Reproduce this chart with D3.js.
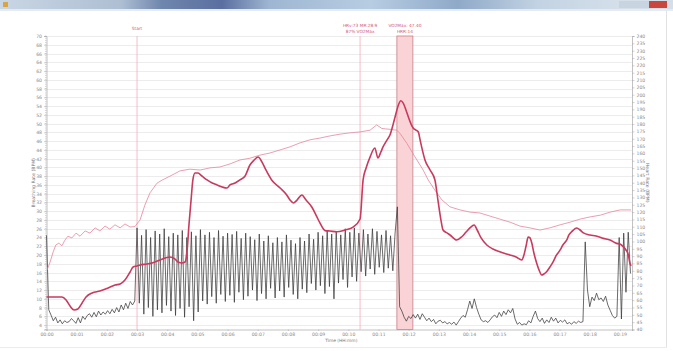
<!DOCTYPE html>
<html><head><meta charset="utf-8">
<script src="https://cdn.jsdelivr.net/npm/d3@7"></script>
<style>
html,body{margin:0;padding:0;background:#fff;overflow:hidden}
svg{display:block;font-family:"DejaVu Sans",Arial,sans-serif}
</style></head><body>
<svg id="chart" width="673" height="351"></svg>
<script>
// Breathing rate (BPM), one sample every 4.5 s from 00:00
const breathStepSec = 4.5;
const breathRate = [
  24.5, 7.5, 6.3, 5.0, 5.8, 4.5, 5.2, 4.3, 5.0, 4.6,
  4.8, 5.5, 5.0, 4.4, 5.7, 4.5, 6.0, 5.3, 6.2, 6.6,
  5.8, 6.9, 5.9, 7.2, 6.3, 7.0, 6.5, 7.3, 6.6, 7.6,
  6.8, 8.0, 7.0, 8.6, 7.5, 9.0, 7.8, 9.4, 8.6, 9.5,
  26.2, 9.0, 24.5, 6.5, 25.8, 8.0, 24.0, 6.0, 25.5, 7.5,
  24.8, 6.8, 26.0, 8.5, 24.2, 7.2, 25.0, 6.2, 24.6, 7.8,
  25.6, 5.8, 24.0, 8.2, 25.3, 5.0, 24.4, 7.0, 25.8, 9.5,
  24.6, 8.8, 25.2, 10.5, 24.0, 9.0, 25.6, 11.0, 24.3, 9.4,
  25.0, 10.8, 24.7, 9.2, 25.4, 11.5, 23.8, 9.8, 25.0, 10.6,
  24.2, 12.0, 23.5, 9.6, 24.8, 11.2, 23.2, 10.0, 24.4, 12.4,
  22.8, 10.2, 24.0, 11.8, 23.0, 10.4, 24.6, 12.6, 23.4, 11.0,
  22.6, 10.0, 24.0, 12.2, 23.2, 11.4, 24.8, 13.5, 23.6, 12.0,
  25.2, 13.0, 24.4, 11.2, 25.6, 12.8, 24.8, 10.0, 25.4, 13.6,
  24.6, 14.4, 26.0, 12.6, 25.2, 15.0, 26.2, 14.0, 25.0, 16.2,
  25.8, 15.2, 24.8, 16.8, 26.0, 15.6, 25.4, 17.2, 24.6, 16.0,
  25.6, 17.0, 24.4, 16.4, 25.0, 31.0, 8.2, 7.2, 5.8, 4.9,
  6.0, 5.5, 6.4, 5.6, 6.5, 5.3, 6.6, 5.8, 5.0, 5.6,
  4.8, 5.3, 4.3, 4.9, 5.1, 4.5, 4.8, 4.3, 4.6, 4.2,
  4.7, 4.0, 4.8, 5.6, 6.2, 5.8, 7.5, 9.5, 7.8, 10.0,
  8.0, 6.5, 5.2, 4.8, 5.0, 4.6, 5.2, 5.9, 6.3, 5.7,
  6.9, 6.0, 7.2, 6.4, 7.5, 6.8, 7.8, 5.4, 4.2, 4.6,
  4.0, 4.3, 4.1, 5.0, 4.5, 6.0, 7.2, 5.5, 4.8, 5.6,
  4.4, 5.2, 4.6, 5.8, 4.9, 5.6, 4.5, 5.1, 4.7, 5.2,
  4.3, 4.6, 4.2, 4.8, 4.4, 4.9, 4.6, 4.8, 23.0, 12.0,
  8.2, 10.4, 9.6, 11.3, 9.8, 10.2, 9.4, 10.6, 8.6, 7.4,
  6.2, 5.6, 6.0, 24.0, 5.4, 25.0, 11.5, 25.2, 15.8
];

// Heart rate (BPM, right axis): time in minutes and value
const hrMinutes = [
  0, 0.28, 0.51, 0.65, 0.78, 0.91, 1.04, 1.18, 1.31, 1.51,
  1.77, 2.04, 2.27, 2.44, 2.60, 2.77, 2.87, 3.00, 3.10, 3.33,
  3.53, 3.76, 3.93, 4.09, 4.26, 4.36, 4.49, 4.59, 4.66, 4.72,
  4.79, 4.85, 4.92, 5.02, 5.15, 5.32, 5.49, 5.65, 5.82, 5.98,
  6.08, 6.25, 6.41, 6.58, 6.74, 6.88, 7.01, 7.14, 7.27, 7.46,
  7.74, 7.96, 8.07, 8.18, 8.30, 8.46, 8.60, 8.79, 8.93, 9.06,
  9.23, 9.39, 9.62, 9.89, 10.16, 10.39, 10.49, 10.59, 10.72, 10.88,
  10.98, 11.08, 11.15, 11.28, 11.38, 11.48, 11.55, 11.61, 11.66, 11.74,
  11.82, 11.91, 11.99, 12.08, 12.15, 12.24, 12.32, 12.38, 12.43, 12.54,
  12.71, 12.87, 12.97, 13.07, 13.14, 13.27, 13.37, 13.59, 13.76, 13.90,
  14.03, 14.17, 14.27, 14.40, 14.59, 14.79, 15.02, 15.35, 15.56, 15.75,
  15.82, 15.89, 15.96, 16.02, 16.08, 16.15, 16.24, 16.32, 16.41, 16.48,
  16.57, 16.68, 16.79, 16.88, 17.02, 17.11, 17.24, 17.31, 17.40, 17.57,
  17.68, 17.79, 18.01, 18.21, 18.45, 18.67, 18.89, 19.00, 19.11, 19.20,
  19.28, 19.33, 19.37
];
const hrBpm = [
  62.1, 62.1, 62.1, 60.1, 56.0, 53.3, 54.0, 58.1, 62.1, 64.9,
  66.2, 68.3, 70.3, 71.0, 73.7, 79.2, 82.6, 83.3, 84.0, 84.6,
  85.5, 87.4, 88.7, 89.4, 88.0, 86.0, 85.3, 86.0, 94.2, 111.2,
  128.2, 141.9, 146.6, 146.6, 144.6, 141.9, 139.8, 138.5, 137.1, 136.4,
  138.5, 139.8, 141.9, 144.6, 152.1, 155.5, 157.5, 154.1, 148.7, 141.9,
  136.4, 131.7, 128.2, 126.2, 128.2, 131.7, 128.2, 123.5, 118.0, 112.6,
  107.4, 107.1, 106.6, 107.8, 109.8, 115.3, 141.9, 150.1, 157.5, 163.7,
  156.9, 161.0, 164.4, 169.1, 172.5, 179.4, 184.8, 189.6, 193.0, 195.9,
  194.3, 189.6, 184.8, 180.0, 177.3, 175.9, 174.6, 169.1, 164.4, 155.5,
  148.7, 141.9, 128.2, 114.6, 107.8, 105.8, 104.4, 101.0, 103.2, 106.4,
  109.2, 111.2, 107.8, 102.4, 97.6, 94.9, 93.0, 90.8, 89.4, 87.4,
  90.8, 96.9, 103.0, 102.4, 98.9, 92.1, 85.3, 80.5, 77.1, 77.8,
  79.4, 82.6, 86.2, 90.1, 94.2, 97.6, 101.0, 104.4, 106.6, 109.2,
  107.8, 105.8, 104.4, 103.7, 102.1, 101.0, 98.7, 98.3, 96.4, 94.2,
  90.8, 85.3, 83.3
];

// VO2 (ml/kg/min, left axis): time in minutes and value
const vo2Minutes = [
  0.02, 0.12, 0.22, 0.31, 0.41, 0.51, 0.61, 0.71, 0.84, 0.98,
  1.11, 1.28, 1.44, 1.61, 1.77, 1.94, 2.10, 2.27, 2.44, 2.60,
  2.77, 2.93, 3.10, 3.26, 3.43, 3.66, 3.83, 4.09, 4.42, 4.75,
  5.09, 5.42, 5.75, 6.08, 6.41, 6.74, 7.07, 7.41, 7.74, 8.07,
  8.40, 8.73, 9.06, 9.40, 9.73, 10.06, 10.39, 10.72, 10.94, 11.11,
  11.22, 11.38, 11.60, 11.71, 11.94, 12.21, 12.48, 12.65, 12.87, 13.10,
  13.37, 13.70, 14.03, 14.36, 14.69, 15.02, 15.36, 15.69, 16.02, 16.35,
  16.68, 17.02, 17.35, 17.68, 18.01, 18.35, 18.68, 19.01, 19.37
];
const vo2Values = [
  16.6, 18.4, 20.7, 22.3, 22.7, 22.1, 23.4, 24.3, 23.9, 25.0,
  24.3, 25.5, 25.0, 26.2, 25.5, 26.6, 25.9, 26.9, 26.2, 27.1,
  26.4, 26.5, 28.0, 31.4, 34.2, 36.4, 37.1, 38.0, 39.2, 39.6,
  39.4, 39.9, 40.1, 40.8, 41.7, 42.1, 42.8, 43.3, 44.0, 44.7,
  45.6, 46.3, 46.7, 47.2, 47.6, 47.9, 48.1, 48.5, 49.7, 48.9,
  48.8, 48.7, 48.5, 47.8, 45.5, 42.4, 39.4, 37.1, 34.8, 32.6,
  31.0, 30.3, 29.8, 29.6, 28.9, 28.2, 27.5, 26.6, 26.2, 25.7,
  26.2, 26.9, 27.5, 28.2, 28.7, 29.1, 29.8, 30.3, 30.3
];

// Axis ticks
const leftTicks = [4, 6, 8, 10, 12, 14, 16, 18, 20, 22, 24, 26, 28, 30, 32, 34, 36, 38,
  40, 42, 44, 46, 48, 50, 52, 54, 56, 58, 60, 62, 64, 66, 68, 70];
const rightTicks = [40, 45, 50, 55, 60, 65, 70, 75, 80, 85, 90, 95, 100, 105, 110, 115, 120,
  125, 130, 135, 140, 145, 150, 155, 160, 165, 170, 175, 180, 185, 190, 195, 200, 205, 210,
  215, 220, 225, 230, 235, 240];
const timeTicks = [0, 1, 2, 3, 4, 5, 6, 7, 8, 9, 10, 11, 12, 13, 14, 15, 16, 17, 18, 19];
const timeLabels = ["00:00", "00:01", "00:02", "00:03", "00:04", "00:05", "00:06", "00:07",
  "00:08", "00:09", "00:10", "00:11", "00:12", "00:13", "00:14", "00:15", "00:16", "00:17",
  "00:18", "00:19"];

// Event markers and the VO2Max window
const markerMinutes = [3.0, 10.39];
const markerLabels = [["Start"], ["HRv:73  MR:28.9", "87% VO2Max"]];
const windowMinutes = [11.61, 12.14];
const windowLabels = ["VO2Max: 47.40", "HRR:14"];

const svg = d3.select("#chart");
const W = 673, H = 351;
const plot = {left: 46.5, right: 632, top: 36, bottom: 329.5};

// Window chrome
const defs = svg.append("defs");
const tg = defs.append("linearGradient").attr("id", "titlebar");
[[0, "#c9d6e4"], [0.18, "#aebfd3"], [0.24, "#6f86ad"], [0.33, "#5a6fa0"], [0.40, "#9fb6d2"],
 [0.55, "#b7cde2"], [0.68, "#8fa9c8"], [0.80, "#c3d3e3"], [0.92, "#d4dfea"], [1, "#d4dfea"]]
  .forEach(([o, c]) => tg.append("stop").attr("offset", o).attr("stop-color", c));
svg.append("rect").attr("x", 0).attr("y", 0).attr("width", W).attr("height", 9).attr("fill", "url(#titlebar)");
svg.append("rect").attr("x", 0).attr("y", 9).attr("width", W).attr("height", 2).attr("fill", "#e4ebf2");
svg.append("rect").attr("x", 3).attr("y", 2).attr("width", 5).attr("height", 5).attr("fill", "#d9a441");
svg.append("rect").attr("x", 619).attr("y", 1).attr("width", 30).attr("height", 7).attr("fill", "#c8d4e0");
svg.append("rect").attr("x", 649).attr("y", 1).attr("width", 18).attr("height", 7).attr("fill", "#c9473c");
svg.append("line").attr("x1", 666.5).attr("x2", 666.5).attr("y1", 11).attr("y2", 347).attr("stroke", "#e2e2e2");
svg.append("line").attr("x1", 0).attr("x2", 667).attr("y1", 347.5).attr("y2", 347.5).attr("stroke", "#ececec");

// Scales
const x = d3.scaleLinear().domain([0, 19.4]).range([plot.left, plot.right]);
const yL = d3.scaleLinear().domain([3, 70]).range([plot.bottom, plot.top]);
const yR = d3.scaleLinear().domain([40, 240]).range([plot.bottom, plot.top]);

const tickFont = 4.6, tickColor = "#8a8a8a", axisColor = "#a8a8a8";

// Horizontal grid
svg.append("g").selectAll("line").data(leftTicks).join("line")
  .attr("x1", plot.left).attr("x2", plot.right)
  .attr("y1", d => Math.round(yL(d)) + 0.5).attr("y2", d => Math.round(yL(d)) + 0.5)
  .attr("stroke", "#e4e4e4").attr("stroke-width", 0.7);

// VO2Max window
svg.append("rect")
  .attr("x", x(windowMinutes[0])).attr("y", plot.top)
  .attr("width", x(windowMinutes[1]) - x(windowMinutes[0]))
  .attr("height", plot.bottom - plot.top)
  .attr("fill", "#f9d3d6").attr("stroke", "#c77f86").attr("stroke-width", 0.8);
svg.append("g").selectAll("text").data(windowLabels).join("text")
  .attr("x", (x(windowMinutes[0]) + x(windowMinutes[1])) / 2)
  .attr("y", (d, i) => 27 + i * 6)
  .attr("text-anchor", "middle").attr("font-size", 4.3).attr("fill", "#d0566f")
  .text(d => d);

// Event markers
markerMinutes.forEach((m, k) => {
  svg.append("line").attr("x1", x(m)).attr("x2", x(m)).attr("y1", plot.top).attr("y2", plot.bottom)
    .attr("stroke", "#f2a9b8").attr("stroke-width", 0.8);
  const lines = markerLabels[k];
  svg.append("g").selectAll("text").data(lines).join("text")
    .attr("x", x(m)).attr("y", (d, i) => (lines.length === 1 ? 30 : 27) + i * 6)
    .attr("text-anchor", "middle").attr("font-size", 4.3).attr("fill", "#d0566f")
    .text(d => d);
});

// Left axis with minor ticks
const gL = svg.append("g").attr("transform", `translate(${plot.left},0)`);
gL.call(d3.axisLeft(yL).tickValues(leftTicks).tickSize(2.5).tickPadding(2).tickFormat(d3.format("d")));
gL.append("g").selectAll("line").data(d3.range(3, 70.01, 0.5)).join("line")
  .attr("x1", -1.5).attr("x2", 0).attr("y1", d => yL(d)).attr("y2", d => yL(d))
  .attr("stroke", axisColor).attr("stroke-width", 0.5);

// Right axis
const gR = svg.append("g").attr("transform", `translate(${plot.right},0)`);
gR.call(d3.axisRight(yR).tickValues(rightTicks).tickSize(2.5).tickPadding(2).tickFormat(d3.format("d")));

// Time axis
const gB = svg.append("g").attr("transform", `translate(0,${plot.bottom})`);
gB.call(d3.axisBottom(x).tickValues(timeTicks).tickSize(1.5).tickPadding(1.5)
  .tickFormat((d, i) => timeLabels[i]));

[gL, gR, gB].forEach(g => {
  g.select(".domain").attr("stroke", axisColor).attr("stroke-width", 0.7);
  g.selectAll(".tick line").attr("stroke", axisColor).attr("stroke-width", 0.5);
  g.selectAll(".tick text").attr("font-size", tickFont).attr("fill", tickColor)
    .attr("font-family", "DejaVu Sans, sans-serif");
});

// Axis titles
svg.append("text").attr("transform", `translate(35,${(plot.top + plot.bottom) / 2}) rotate(-90)`)
  .attr("text-anchor", "middle").attr("font-size", 4.6).attr("fill", "#777")
  .text("Breathing Rate (BPM)");
svg.append("text").attr("transform", `translate(646,${(plot.top + plot.bottom) / 2}) rotate(90)`)
  .attr("text-anchor", "middle").attr("font-size", 4.6).attr("fill", "#777")
  .text("Heart Rate (BPM)");
svg.append("text").attr("x", (plot.left + plot.right) / 2 + 2).attr("y", 341.8)
  .attr("text-anchor", "middle").attr("font-size", 4.4).attr("fill", "#777")
  .text("Time (HH:mm)");

// Series
const breathLine = d3.line()
  .x((d, i) => x(i * breathStepSec / 60)).y(d => yL(d));
svg.append("path").datum(breathRate).attr("d", breathLine)
  .attr("fill", "none").attr("stroke", "#3a3a3a").attr("stroke-width", 0.75)
  .attr("stroke-linejoin", "round");

const vo2Line = d3.line().x(d => x(d[0])).y(d => yL(d[1]));
svg.append("path").datum(d3.zip(vo2Minutes, vo2Values)).attr("d", vo2Line)
  .attr("fill", "none").attr("stroke", "#e3879d").attr("stroke-width", 0.8)
  .attr("stroke-linejoin", "round");

const hrLine = d3.line().x(d => x(d[0])).y(d => yR(d[1])).curve(d3.curveMonotoneX);
svg.append("path").datum(d3.zip(hrMinutes, hrBpm)).attr("d", hrLine)
  .attr("fill", "none").attr("stroke", "#c93a5e").attr("stroke-width", 1.6)
  .attr("stroke-linejoin", "round");
</script>
</body></html>
